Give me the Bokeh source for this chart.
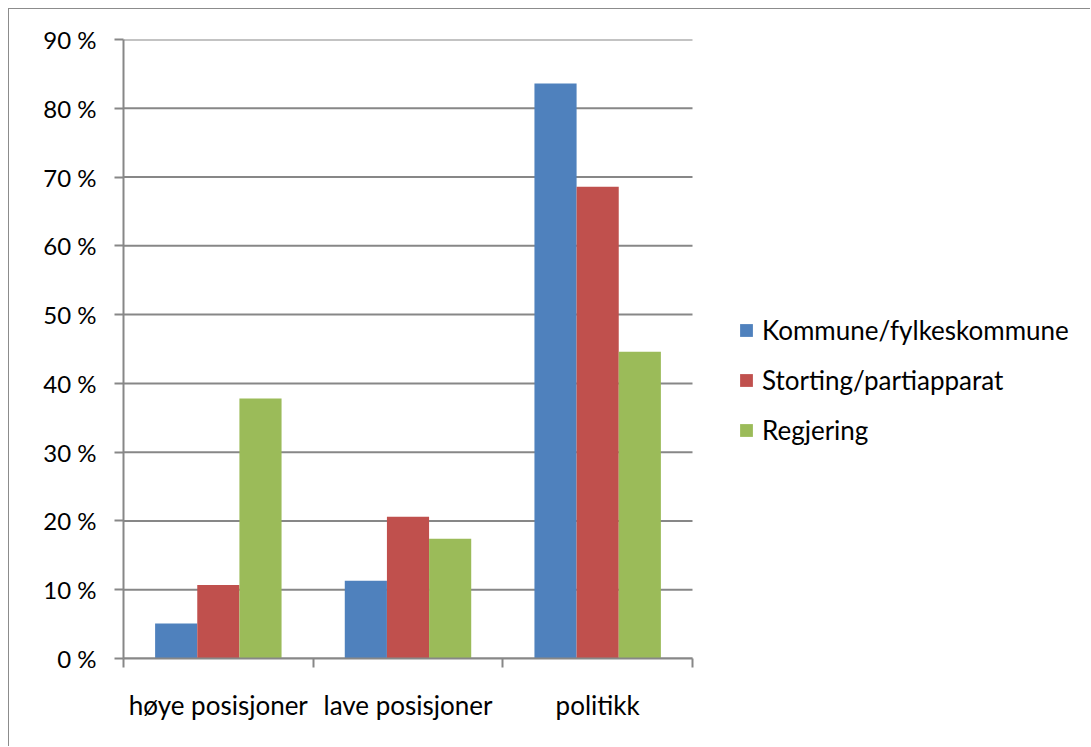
from bokeh.plotting import figure
from bokeh.models import (ColumnDataSource, FixedTicker, Legend, LegendItem,
                          PrintfTickFormatter, Range1d)
from bokeh.embed import file_html
from bokeh.resources import INLINE

categories = ["høye posisjoner", "lave posisjoner", "politikk"]
series_names = ["Kommune/fylkeskommune", "Storting/partiapparat", "Regjering"]
kommune = [5.1, 11.3, 83.6]
storting = [10.7, 20.6, 68.6]
regjering = [37.8, 17.4, 44.6]
colors = ["#4F81BD", "#C0504D", "#9BBB59"]
y_ticks = [0, 10, 20, 30, 40, 50, 60, 70, 80, 90]

FONT = "Lato"
GRAY = "#878787"

W, H = 1082, 738
LEFT, TOP, BOTTOM = 114, 30, 89
PLOT_PX = 569          # width of the category area in pixels
FRAME_PX = W - LEFT    # frame spans to the right edge (legend lives there)
n = len(categories)
x_end = n * FRAME_PX / PLOT_PX

p = figure(width=W, height=H, output_backend="svg", toolbar_location=None,
           x_range=Range1d(0, x_end), y_range=Range1d(0, 90))
p.styles = {"margin-left": "8px", "margin-top": "8px",
            "border-left": "1px solid #8c8c8c", "border-top": "1px solid #8c8c8c"}
p.min_border_left = LEFT
p.min_border_top = TOP
p.min_border_right = 0
p.min_border_bottom = BOTTOM
p.outline_line_color = None
p.background_fill_color = "white"
p.border_fill_color = "white"

# horizontal gridlines limited to the category area
p.segment(x0=[0] * len(y_ticks), x1=[n] * len(y_ticks), y0=y_ticks, y1=y_ticks,
          line_color=GRAY, line_width=2)

centers = [i + 0.5 for i in range(n)]
bar_w = 1.0 / 4.5
offsets = [-bar_w, 0.0, bar_w]
renderers = []
for vals, off, col in zip([kommune, storting, regjering], offsets, colors):
    src = ColumnDataSource(dict(x=[c + off for c in centers], top=vals))
    r = p.vbar(x="x", top="top", bottom=0, width=bar_w, source=src,
               fill_color=col, line_color=None)
    renderers.append(r)

# y axis
p.yaxis.ticker = FixedTicker(ticks=y_ticks)
p.yaxis.formatter = PrintfTickFormatter(format="%d %%")
p.yaxis.axis_line_color = GRAY
p.yaxis.axis_line_width = 2
p.yaxis.major_tick_line_color = GRAY
p.yaxis.major_tick_line_width = 2
p.yaxis.major_tick_out = 9
p.yaxis.major_tick_in = 0
p.yaxis.minor_tick_line_color = None
p.yaxis.major_label_standoff = 18
p.yaxis.major_label_text_font = FONT
p.yaxis.major_label_text_font_size = "24px"
p.yaxis.major_label_text_color = "#000000"

# x axis: labels at centres, ticks at boundaries
p.xaxis.bounds = (0, n)
p.xaxis.ticker = FixedTicker(ticks=centers, minor_ticks=list(range(n + 1)))
p.xaxis.major_label_overrides = {c: nm for c, nm in zip(centers, categories)}
p.xaxis.axis_line_color = GRAY
p.xaxis.axis_line_width = 2
p.xaxis.major_tick_line_color = None
p.xaxis.major_tick_out = 0
p.xaxis.major_tick_in = 0
p.xaxis.minor_tick_line_color = GRAY
p.xaxis.minor_tick_line_width = 2
p.xaxis.minor_tick_out = 9
p.xaxis.minor_tick_in = 0
p.xaxis.major_label_standoff = 21
p.xaxis.major_label_text_font = FONT
p.xaxis.major_label_text_font_size = "26px"
p.xaxis.major_label_text_color = "#000000"

p.xgrid.grid_line_color = None
p.ygrid.grid_line_color = None

legend = Legend(items=[LegendItem(label=nm, renderers=[r]) for nm, r in zip(series_names, renderers)],
                location=(615, 212))
legend.border_line_color = None
legend.background_fill_alpha = 0
legend.padding = 0
legend.margin = 0
legend.glyph_width = 16
legend.glyph_height = 16
legend.label_height = 30
legend.spacing = 18
legend.label_standoff = 8
legend.label_text_font = FONT
legend.label_text_font_size = "26px"
legend.label_text_color = "#000000"
p.add_layout(legend, "center")

open("out.html", "w").write(file_html(p, INLINE))
